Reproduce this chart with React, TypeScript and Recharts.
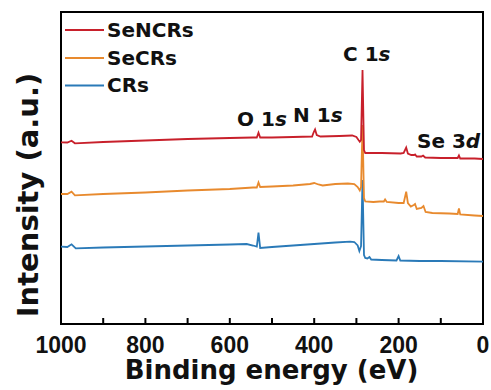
import { LineChart, Line, XAxis, YAxis, ReferenceArea } from "recharts";

// XPS survey spectra, binding energy (eV) vs intensity (arbitrary, offset per sample)
const seNCRsEnergy = [1000, 985, 975, 967, 900, 800, 700, 600, 545, 536, 532, 528, 500, 450, 405, 401, 398, 394, 385, 340, 310, 300, 295, 292, 289, 285.5, 282, 279, 260, 240, 195, 188, 182, 178, 170, 163, 161, 157, 146, 142, 137, 100, 60, 57, 54, 20, 0];
const seNCRsIntensity = [181.7, 181.5, 183.3, 180.7, 182, 183.5, 185, 186, 186.5, 186.5, 191.3, 186.5, 186.5, 187, 187.5, 192, 194.5, 189, 187.5, 188, 188.5, 187, 184, 182.3, 184, 254, 174, 171, 171, 171, 170.5, 171, 176.5, 170.5, 169, 169, 169.5, 167.5, 167.5, 168.5, 166.5, 166, 166, 168.5, 165.5, 165.5, 165];

const seCRsEnergy = [1000, 985, 975, 967, 900, 800, 700, 600, 545, 536, 532, 528, 500, 450, 410, 400, 390, 380, 350, 320, 305, 297, 292, 289, 285.5, 282, 279, 260, 245, 235, 232, 228, 200, 188, 182, 178, 171, 164, 161, 157, 146, 141, 136, 120, 80, 60, 57, 54, 20, 0];
const seCRsIntensity = [130, 130, 132.3, 128.7, 130, 131.5, 133.5, 135, 136.5, 136.5, 141.5, 137, 137.5, 138.5, 140, 141, 139.5, 138.5, 140, 140.5, 140, 137, 133.5, 137, 199, 126, 122.5, 122, 122.5, 122.5, 124.5, 122, 121, 121, 132.3, 121, 117.5, 119, 120, 115, 116, 118, 112, 111, 110.5, 110, 115.5, 109.5, 108.5, 108];

const crsEnergy = [1000, 985, 975, 965, 900, 800, 700, 600, 560, 545, 536, 532, 528, 500, 450, 400, 350, 315, 305, 297, 293, 289, 285.5, 282, 279, 274, 269, 265, 240, 205, 200, 196, 150, 100, 0];
const crsIntensity = [77.3, 77, 79.7, 75.7, 76.5, 77.5, 78.5, 79.5, 80, 78.5, 77.5, 91.3, 76, 77, 78.5, 80, 81.5, 82.3, 82, 78.5, 73, 78, 144, 69, 66, 65.5, 67, 64.5, 64, 63.5, 68, 63.5, 63, 63, 62.3];

const xTicks = [0, 100, 200, 300, 400, 500, 600, 700, 800, 900, 1000];

const series = [
  { name: "SeNCRs", color: "#c8202b", energy: seNCRsEnergy, intensity: seNCRsIntensity },
  { name: "SeCRs", color: "#e88a2e", energy: seCRsEnergy, intensity: seCRsIntensity },
  { name: "CRs", color: "#2a7ab8", energy: crsEnergy, intensity: crsIntensity },
];

const toRows = (e: number[], v: number[]) => e.map((x, i) => ({ e: x, v: v[i] }));

const bold = "'DejaVu Sans', sans-serif";

function Tick(props: any) {
  const { x, y, payload } = props;
  const major = payload.value % 200 === 0;
  return (
    <g>
      <line x1={x} x2={x} y1={y - 1} y2={y - 6} stroke="#000" strokeWidth={2} />
      {major && (
        <text x={x} y={y + 29} textAnchor="middle" fontFamily="'Liberation Sans', Arial, sans-serif" fontWeight="bold" fontSize={23} fill="#111">
          {payload.value}
        </text>
      )}
    </g>
  );
}

export default function App() {
  return (
    <div style={{ position: "absolute", left: 0, top: 0, width: 491, height: 390, background: "#fff" }}>
      <LineChart width={491} height={390} margin={{ top: 12, right: 8, left: 61, bottom: 0 }}>
        <XAxis
          xAxisId="b"
          dataKey="e"
          type="number"
          domain={[0, 1000]}
          reversed
          ticks={xTicks}
          interval={0}
          tickSize={0}
          tickMargin={0}
          tick={<Tick />}
          tickLine={false}
          height={66}
          axisLine={false}
        />
        <YAxis yAxisId="l" type="number" domain={[0, 312]} hide />
        {[...series].reverse().map((s) => (
          <Line
            key={s.name}
            xAxisId="b"
            yAxisId="l"
            data={toRows(s.energy, s.intensity)}
            dataKey="v"
            type="linear"
            stroke={s.color}
            strokeWidth={1.8}
            dot={false}
            isAnimationActive={false}
          />
        ))}
        <ReferenceArea xAxisId="b" yAxisId="l" x1={1000} x2={0} y1={0} y2={312} fill="none" fillOpacity={0} stroke="#000" strokeWidth={2} ifOverflow="visible" />
      </LineChart>
      <svg width={491} height={390} style={{ position: "absolute", left: 0, top: 0, pointerEvents: "none" }}>
        {series.map((s, i) => {
          const cy = [30, 58, 85.5][i];
          return (
            <g key={s.name}>
              <line x1={65} x2={104} y1={cy} y2={cy} stroke={s.color} strokeWidth={2} />
              <text x={107} y={cy + 6.5} fontFamily={bold} fontWeight="bold" fontSize={20} fill="#111">{s.name}</text>
            </g>
          );
        })}
        <g fontFamily={bold} fontWeight="bold" fontSize={20} fill="#111">
          <text x={343} y={61}>C 1<tspan fontStyle="italic">s</tspan></text>
          <text x={237} y={126}>O 1<tspan fontStyle="italic">s</tspan></text>
          <text x={293} y={122}>N 1<tspan fontStyle="italic">s</tspan></text>
          <text x={417} y={148}>Se 3<tspan fontStyle="italic">d</tspan></text>
        </g>
        <text x={271.5} y={379} textAnchor="middle" fontFamily={bold} fontWeight="bold" fontSize={26} fill="#111">Binding energy (eV)</text>
        <text x={38} y={195} textAnchor="middle" transform="rotate(-90, 38, 195)" fontFamily={bold} fontWeight="bold" fontSize={29} fill="#111">Intensity (a.u.)</text>
      </svg>
    </div>
  );
}
